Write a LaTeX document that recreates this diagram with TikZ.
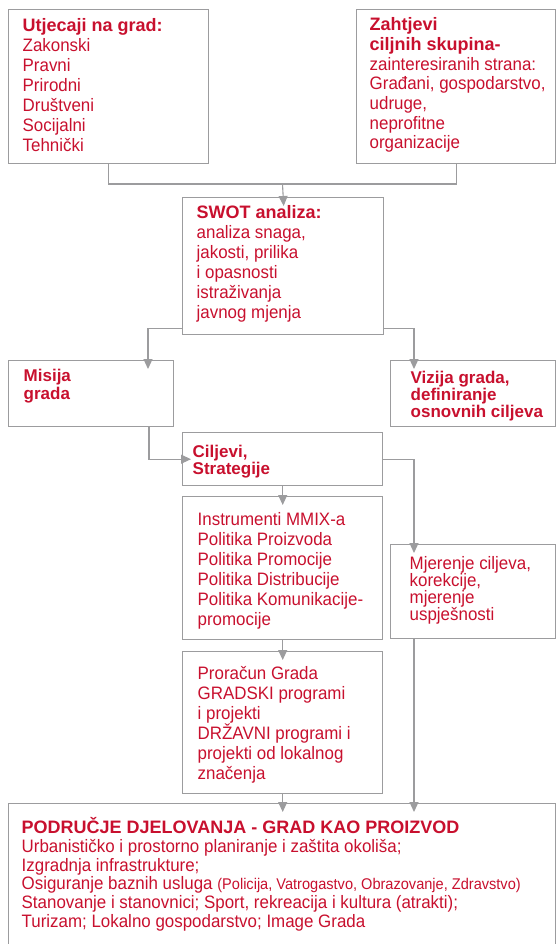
\documentclass[tikz,border=0pt]{standalone}
\usepackage{fontspec}
\setmainfont{Liberation Sans}
\newfontfamily\narrowsans{Liberation Sans}[FakeStretch=0.94]
\usetikzlibrary{arrows.meta,calc}
\definecolor{gradred}{HTML}{C8102E}
\definecolor{framegray}{HTML}{9C9C9E}
% width, height, left pad, first baseline, text
\newcommand{\boxtext}[5]{\parbox[t][#2][t]{#1}{\raggedright\leftskip=#3\relax\rule{0pt}{#4}#5}}
\newcommand{\regsize}{\fontsize{18}{20}\selectfont}

\begin{document}
\begin{tikzpicture}[x={(1pt,0)}, y={(0,-1pt)},
    box/.style={draw=framegray, line width=1.4pt, anchor=north west, inner sep=0pt, text=gradred},
    conn/.style={draw=framegray, line width=1.1pt},
    arr/.style={conn, -{Triangle[length=10pt,width=9pt]}, shorten >=-9pt}]
  \useasboundingbox (0,0) rectangle (556,944);
  \clip (0,0) rectangle (556,944);

  \node[box] (utj) at (8,9) {\boxtext{200pt}{154pt}{14pt}{22pt}{\regsize
    {\bfseries Utjecaji na grad:}\\
    \narrowsans Zakonski\\ Pravni\\ Prirodni\\ Društveni\\ Socijalni\\ Tehnički}};
  \node[box] (zah) at (356,9) {\boxtext{199pt}{154pt}{13pt}{21pt}{\fontsize{18}{19.7}\selectfont
    {\bfseries Zahtjevi\\ ciljnih skupina-}\\
    \narrowsans zainteresiranih strana:\\ Građani, gospodarstvo,\\ udruge,\\ neprofitne\\ organizacije}};
  \node[box] (swot) at (182,197) {\boxtext{201pt}{137pt}{14pt}{21pt}{\regsize
    {\bfseries SWOT analiza:}\\
    \narrowsans analiza snaga,\\ jakosti, prilika\\ i opasnosti\\ istraživanja\\ javnog mjenja}};

  \node[box] (mis) at (8,360) {\boxtext{165pt}{66pt}{15pt}{21pt}{\fontsize{17}{18}\selectfont\bfseries
    Misija\\ grada}};
  \node[box] (viz) at (390,360) {\boxtext{165pt}{66pt}{20pt}{23pt}{\fontsize{17}{17}\selectfont\bfseries
    Vizija grada,\\ definiranje\\ osnovnih ciljeva}};
  \node[box] (cil) at (182,432) {\boxtext{200pt}{53pt}{10pt}{25pt}{\fontsize{17}{17}\selectfont\bfseries
    Ciljevi,\\ Strategije}};

  \node[box] (ins) at (182,496) {\boxtext{200pt}{143pt}{15pt}{29pt}{\regsize\narrowsans
    Instrumenti MMIX-a\\ Politika Proizvoda\\ Politika Promocije\\ Politika Distribucije\\
    Politika Komunikacije-\\ promocije}};
  \node[box] (pro) at (182,651) {\boxtext{200pt}{142pt}{15pt}{28pt}{\regsize\narrowsans
    Proračun Grada\\ GRADSKI programi\\ i projekti\\ DRŽAVNI programi i\\
    projekti od lokalnog\\ značenja}};
  \node[box] (mje) at (390,544) {\boxtext{165pt}{94pt}{19pt}{25pt}{\fontsize{18}{17}\selectfont\narrowsans
    Mjerenje ciljeva,\\ korekcije,\\ mjerenje\\ uspješnosti}};

  \node[box] (pod) at (8,803) {\boxtext{547pt}{150pt}{13pt}{30pt}{\fontsize{18}{18.7}\selectfont
    {\bfseries PODRUČJE DJELOVANJA - GRAD KAO PROIZVOD}\\
    \narrowsans Urbanističko i prostorno planiranje i zaštita okoliša;\\
    Izgradnja infrastrukture;\\
    Osiguranje baznih usluga {\fontsize{15.5}{18}\selectfont (Policija, Vatrogastvo, Obrazovanje, Zdravstvo)}\\
    Stanovanje i stanovnici; Sport, rekreacija i kultura (atrakti);\\
    Turizam; Lokalno gospodarstvo; Image Grada}};

  \coordinate (join) at (282.5,184);
  \draw[conn] (utj.south) |- (join) -| (zah.south);
  \draw[arr] (join) -- (swot.north);
  \draw[arr] ([yshift=7pt]swot.south west) -| ([xshift=140pt]mis.north west);
  \draw[arr] ([yshift=7pt]swot.south east) -| ([xshift=24pt]viz.north west);
  \draw[arr] ([xshift=141pt]mis.south west) |- (cil.west);
  \draw[arr] (cil.east) -| ([xshift=24pt]mje.north west);
  \draw[arr] (cil.south) -- (ins.north);
  \draw[arr] (ins.south) -- (pro.north);
  \draw[arr] (pro.south) -- (pro.south |- pod.north);
  \draw[arr] ([xshift=24pt]mje.south west) -- ([xshift=24pt]mje.south west |- pod.north);
\end{tikzpicture}
\end{document}
